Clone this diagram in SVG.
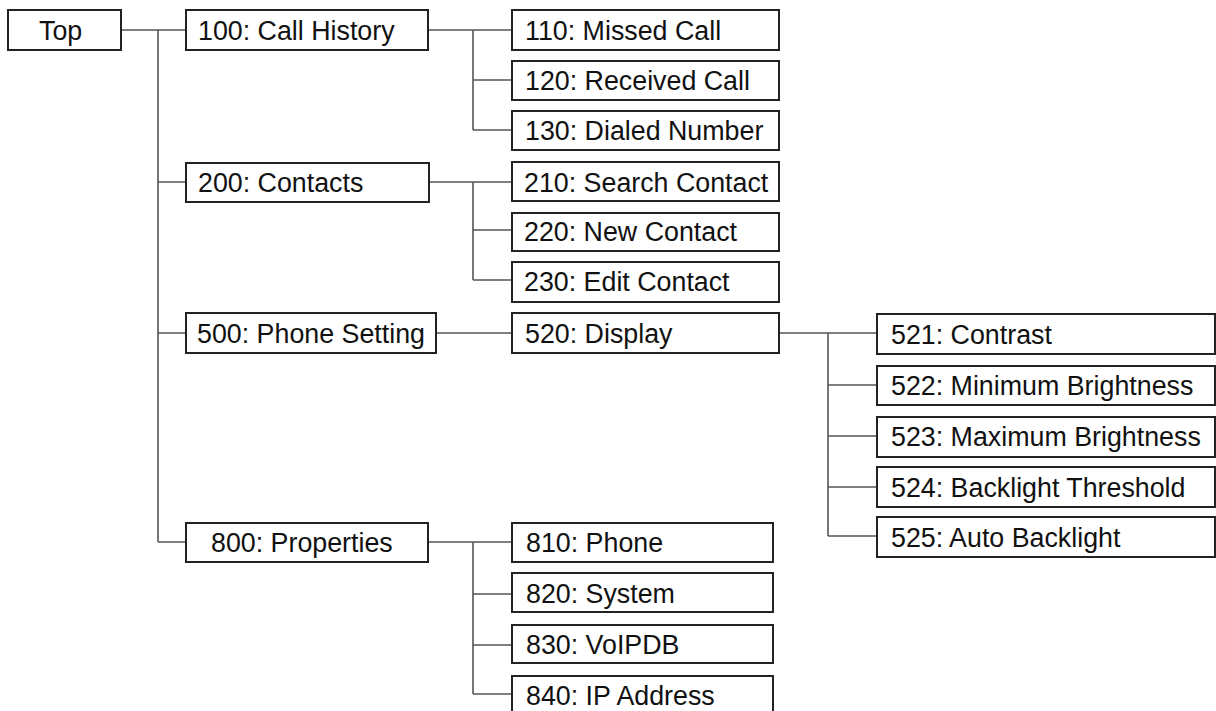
<svg xmlns="http://www.w3.org/2000/svg" width="1216" height="711" viewBox="0 0 1216 711">
<style>
.b{fill:#fff;stroke:#222;stroke-width:2}
.t{font-family:"Liberation Sans",Arial,sans-serif;font-size:26.8px;fill:#111}
.c{fill:none;stroke:#555;stroke-width:1.6}
</style>
<rect width="1216" height="711" fill="#fff"/>
<g id="connectors">
<path class="c" d="M121 30H186M158 30V542M158 182H186M158 333H186M158 542H186"/>
<path class="c" d="M428 30H512M473 30V130M473 80H512M473 130H512"/>
<path class="c" d="M429 182H512M473 182V280M473 230H512M473 280H512"/>
<path class="c" d="M436 333H512"/>
<path class="c" d="M779 333H877M828 333V536M828 385H877M828 436H877M828 487H877M828 536H877"/>
<path class="c" d="M428 542H512M473 542V694M473 594H512M473 645H512M473 694H512"/>
</g>
<g id="top"><rect class="b" x="8" y="10" width="113" height="40"/><text class="t" x="39" y="40">Top</text></g>
<g id="n100"><rect class="b" x="186" y="10" width="242" height="40"/><text class="t" x="198" y="40">100: Call History</text></g>
<g id="n110"><rect class="b" x="512" y="10" width="267" height="40"/><text class="t" x="525" y="40">110: Missed Call</text></g>
<g id="n120"><rect class="b" x="512" y="61" width="267" height="39"/><text class="t" x="525" y="90">120: Received Call</text></g>
<g id="n130"><rect class="b" x="512" y="111" width="267" height="39"/><text class="t" x="525" y="140">130: Dialed Number</text></g>
<g id="n200"><rect class="b" x="186" y="163" width="243" height="39"/><text class="t" x="198" y="192">200: Contacts</text></g>
<g id="n210"><rect class="b" x="512" y="162" width="267" height="39"/><text class="t" x="524" y="192">210: Search Contact</text></g>
<g id="n220"><rect class="b" x="512" y="213" width="267" height="38"/><text class="t" x="524" y="241">220: New Contact</text></g>
<g id="n230"><rect class="b" x="512" y="262" width="267" height="40"/><text class="t" x="524" y="291">230: Edit Contact</text></g>
<g id="n500"><rect class="b" x="186" y="313" width="250" height="40"/><text class="t" x="197" y="343">500: Phone Setting</text></g>
<g id="n520"><rect class="b" x="512" y="313" width="267" height="40"/><text class="t" x="525" y="343">520: Display</text></g>
<g id="n521"><rect class="b" x="877" y="314" width="338" height="40"/><text class="t" x="891" y="344">521: Contrast</text></g>
<g id="n522"><rect class="b" x="877" y="366" width="338" height="39"/><text class="t" x="891" y="395">522: Minimum Brightness</text></g>
<g id="n523"><rect class="b" x="877" y="417" width="338" height="40"/><text class="t" x="891" y="446">523: Maximum Brightness</text></g>
<g id="n524"><rect class="b" x="877" y="467" width="338" height="40"/><text class="t" x="891" y="497">524: Backlight Threshold</text></g>
<g id="n525"><rect class="b" x="877" y="517" width="338" height="40"/><text class="t" x="891" y="547">525: Auto Backlight</text></g>
<g id="n800"><rect class="b" x="186" y="523" width="242" height="39"/><text class="t" x="211" y="552">800: Properties</text></g>
<g id="n810"><rect class="b" x="512" y="523" width="261" height="39"/><text class="t" x="526" y="552">810: Phone</text></g>
<g id="n820"><rect class="b" x="512" y="573" width="261" height="39"/><text class="t" x="526" y="603">820: System</text></g>
<g id="n830"><rect class="b" x="512" y="625" width="261" height="38"/><text class="t" x="526" y="654">830: VoIPDB</text></g>
<g id="n840"><rect class="b" x="512" y="676" width="261" height="40"/><text class="t" x="526" y="705">840: IP Address</text></g>
</svg>
